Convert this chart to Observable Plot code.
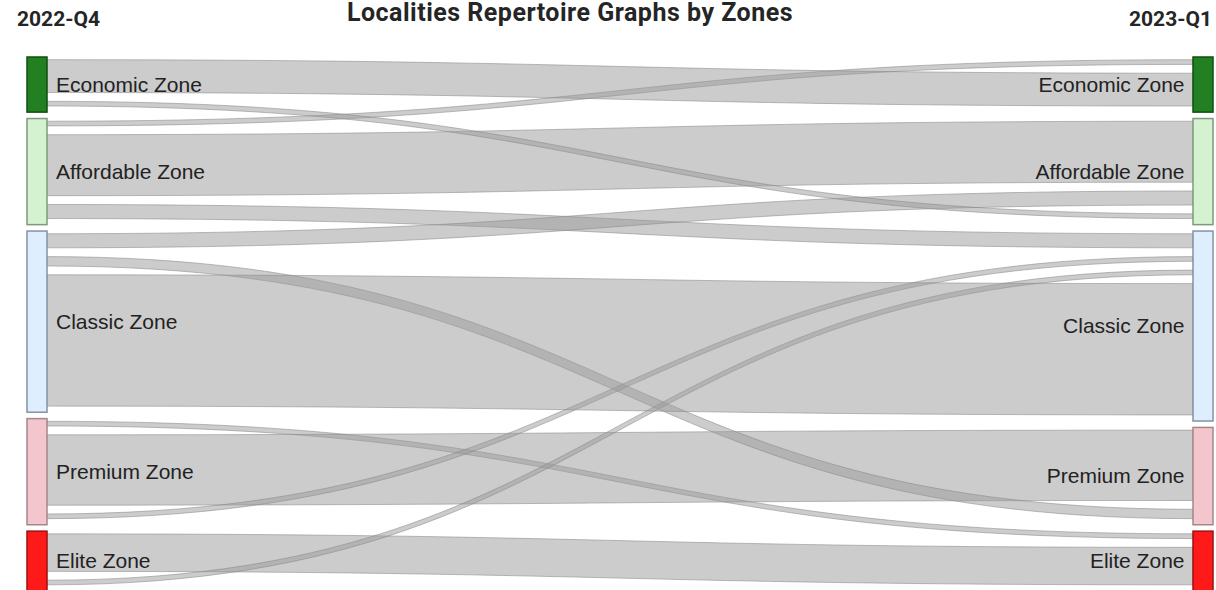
<!DOCTYPE html>
<html>
<head>
<meta charset="utf-8">
<script src="https://cdn.jsdelivr.net/npm/d3@7"></script>
<script src="https://cdn.jsdelivr.net/npm/@observablehq/plot@0.6"></script>
<style>
  html, body { margin: 0; padding: 0; background: #fff; overflow: hidden; }
  #header { position: relative; width: 1216px; height: 40px; }
  #header div { position: absolute; white-space: nowrap; color: #252525; font-family: Roboto, "DejaVu Sans", sans-serif; font-weight: 700; line-height: 1; }
  #title { font-size: 25px; letter-spacing: 0.5px; top: 0px; left: 570px; transform: translateX(-50%); }
  #stageL { font-size: 21px; top: 9px; left: 17px; }
  #stageR { font-size: 21px; top: 9px; right: 4px; }
  #chart svg { display: block; }
</style>
</head>
<body>
<div id="header">
  <div id="stageL"></div>
  <div id="title">Localities Repertoire Graphs by Zones</div>
  <div id="stageR"></div>
</div>
<div id="chart"></div>
<script>
// ---- data ----
const stages = ["2022-Q4", "2023-Q1"];
const zones = ["Economic Zone", "Affordable Zone", "Classic Zone", "Premium Zone", "Elite Zone"];
const zoneFill = ["#228022", "#d4f1d0", "#deeeff", "#f2c6cc", "#ff1a1a"];
const zoneStroke = ["#0f4f0f", "#7f9a7c", "#8493a4", "#a5878b", "#9e1010"];
const linkFrom = ["Affordable Zone", "Affordable Zone", "Affordable Zone", "Economic Zone", "Classic Zone", "Economic Zone", "Premium Zone", "Premium Zone", "Classic Zone", "Premium Zone", "Elite Zone", "Elite Zone", "Classic Zone"];
const linkTo   = ["Economic Zone", "Affordable Zone", "Classic Zone", "Economic Zone", "Affordable Zone", "Affordable Zone", "Elite Zone", "Premium Zone", "Premium Zone", "Classic Zone", "Elite Zone", "Classic Zone", "Classic Zone"];
const linkValue = [1, 13, 3, 7, 3, 1, 1, 15, 2, 1, 8, 1, 28];

document.getElementById("stageL").textContent = stages[0];
document.getElementById("stageR").textContent = stages[1];

// ---- sankey layout (in value units) ----
const PX = 4.69;              // pixels per locality
const slotPad = 8.8 / PX;     // space added to each link slot
const nodePad = 6.4 / PX;     // gap between nodes
const linkInset = 2.7 / PX;   // link offset inside its slot

const links = linkValue.map((v, i) => ({id: i, source: linkFrom[i], target: linkTo[i], value: v}));

function column(side) {
  let y = 0;
  const nodes = [];
  zones.forEach((z, i) => {
    const ls = links.filter(l => (side ? l.target : l.source) === z);
    const h = d3.sum(ls, l => l.value + slotPad);
    nodes.push({zone: z, side, i, y0: y, y1: y + h});
    let c = y;
    ls.forEach(l => {
      const a = c + linkInset;
      if (side) { l.t0 = a; l.t1 = a + l.value; } else { l.s0 = a; l.s1 = a + l.value; }
      c += l.value + slotPad;
    });
    y += h + nodePad;
  });
  return {nodes, total: y - nodePad};
}
const left = column(0), right = column(1);
const nodes = left.nodes.concat(right.nodes);
const T = Math.max(left.total, right.total);

const N = 60;
const pts = links.flatMap(l => d3.range(N + 1).map(k => {
  const s = k / N;
  const b0 = (1 - s) ** 3, b1 = 3 * (1 - s) ** 2 * s, b2 = 3 * (1 - s) * s * s, b3 = s ** 3;
  return {
    id: l.id,
    x: (b1 + b2) * 0.5 + b3,
    top: (b0 + b1) * l.s0 + (b2 + b3) * l.t0,
    bot: (b0 + b1) * l.s1 + (b2 + b3) * l.t1
  };
}));

const xLeft = 47, xRight = 1193, nodeW = 20 / (xRight - xLeft);
const top0 = 17;
const labelFont = "'Liberation Sans', Arial, sans-serif";

const chart = Plot.plot({
  width: 1216,
  height: 551,
  margin: 0,
  x: {domain: [0, 1], range: [xLeft, xRight], axis: null},
  y: {domain: [0, T], range: [top0, top0 + T * PX], axis: null},
  color: {type: "identity"},
  marks: [
    Plot.area(pts, {x1: "x", y1: "top", y2: "bot", z: "id", fill: "#999", fillOpacity: 0.5, stroke: "#888", strokeOpacity: 0.55, strokeWidth: 1}),
    Plot.rect(nodes, {
      x1: d => d.side ? 1 : -nodeW,
      x2: d => d.side ? 1 + nodeW : 0,
      y1: "y0", y2: "y1",
      fill: d => zoneFill[d.i],
      stroke: d => zoneStroke[d.i],
      strokeWidth: 1.5
    }),
    Plot.text(nodes.filter(d => !d.side), {x: 0, y: d => (d.y0 + d.y1) / 2, text: "zone", textAnchor: "start", dx: 8.5, fontSize: 21, fontFamily: labelFont, fill: "#222"}),
    Plot.text(nodes.filter(d => d.side), {x: 1, y: d => (d.y0 + d.y1) / 2, text: "zone", textAnchor: "end", dx: -9, fontSize: 21, fontFamily: labelFont, fill: "#222"})
  ]
});
document.getElementById("chart").appendChild(chart);
</script>
</body>
</html>
